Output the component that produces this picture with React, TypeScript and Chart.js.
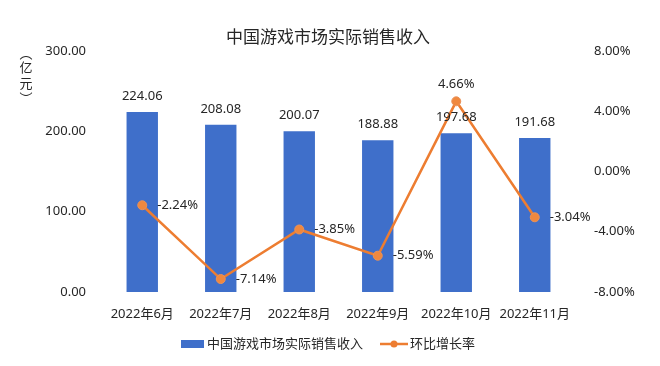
import React, { useEffect, useRef } from "react";
import { Chart, registerables } from "chart.js";

Chart.register(...registerables);

const categories = ["2022年6月", "2022年7月", "2022年8月", "2022年9月", "2022年10月", "2022年11月"];
const revenue = [224.06, 208.08, 200.07, 188.88, 197.68, 191.68];
const growth = [-2.24, -7.14, -3.85, -5.59, 4.66, -3.04];
const revenueAxis = { min: 0, max: 300, step: 100 };
const growthAxis = { min: -8, max: 8, step: 4 };
const titleText = "中国游戏市场实际销售收入";
const unitText = ["︵", "亿", "元", "︶"];
const seriesNames = ["中国游戏市场实际销售收入", "环比增长率"];

const FONT = "'Noto Sans', 'Noto Sans CJK SC', sans-serif";
const TEXT = "#262626";
const BLUE = "#3F6FCA";
const ORANGE = "#ED7D31";

const decorPlugin = {
  id: "decor",
  afterDatasetsDraw(chart: any) {
    const ctx = chart.ctx as CanvasRenderingContext2D;
    ctx.save();
    ctx.fillStyle = TEXT;
    // bar value labels
    ctx.font = `13px ${FONT}`;
    ctx.textAlign = "center";
    ctx.textBaseline = "middle";
    const barMeta = chart.getDatasetMeta(1);
    barMeta.data.forEach((el: any, i: number) => {
      ctx.fillText(revenue[i].toFixed(2), el.x, el.y - 16);
    });
    // line value labels
    const lineMeta = chart.getDatasetMeta(0);
    lineMeta.data.forEach((el: any, i: number) => {
      const txt = growth[i].toFixed(2) + "%";
      if (growth[i] > 0) {
        ctx.textAlign = "center";
        ctx.fillText(txt, el.x, el.y - 17);
      } else {
        ctx.textAlign = "left";
        ctx.fillText(txt, el.x + 15, el.y);
      }
    });
    ctx.restore();
  },
  afterDraw(chart: any) {
    const ctx = chart.ctx as CanvasRenderingContext2D;
    ctx.save();
    ctx.fillStyle = TEXT;
    ctx.textBaseline = "middle";
    // title
    ctx.font = `17px ${FONT}`;
    ctx.textAlign = "center";
    ctx.fillText(titleText, 328, 38);
    // unit (vertical)
    ctx.font = `13px ${FONT}`;
    const ys = [54, 68, 84, 99];
    unitText.forEach((c, i) => ctx.fillText(c, 26, ys[i]));
    // legend
    const ly = 344;
    ctx.fillStyle = BLUE;
    ctx.fillRect(181, ly - 4, 23, 8);
    ctx.fillStyle = TEXT;
    ctx.textAlign = "left";
    ctx.font = `13px ${FONT}`;
    ctx.fillText(seriesNames[0], 207, ly);
    ctx.strokeStyle = ORANGE;
    ctx.lineWidth = 2.5;
    ctx.beginPath();
    ctx.moveTo(380, ly);
    ctx.lineTo(408, ly);
    ctx.stroke();
    ctx.fillStyle = ORANGE;
    ctx.beginPath();
    ctx.arc(394, ly, 3.5, 0, Math.PI * 2);
    ctx.fill();
    ctx.fillStyle = TEXT;
    ctx.fillText(seriesNames[1], 410, ly);
    ctx.restore();
  },
};

export default function App() {
  const ref = useRef<HTMLCanvasElement | null>(null);
  useEffect(() => {
    if (!ref.current) return;
    const chart = new Chart(ref.current, {
      type: "bar",
      data: {
        labels: categories,
        datasets: [
          {
            type: "line",
            label: seriesNames[1],
            data: growth,
            yAxisID: "y1",
            borderColor: ORANGE,
            backgroundColor: ORANGE,
            borderWidth: 2.5,
            pointRadius: 4.5,
            pointBackgroundColor: "#F0883E",
            pointBorderColor: "#E9925A",
            pointBorderWidth: 1,
            tension: 0,
            order: 0,
          } as any,
          {
            type: "bar",
            label: seriesNames[0],
            data: revenue,
            yAxisID: "y",
            backgroundColor: BLUE,
            barPercentage: 0.4,
            categoryPercentage: 1,
            order: 1,
          },
        ],
      },
      options: {
        responsive: false,
        animation: false,
        layout: { padding: { top: 51, bottom: 0, left: 0, right: 0 } },
        plugins: { legend: { display: false }, title: { display: false }, tooltip: { enabled: false } },
        scales: {
          x: {
            grid: { display: false, drawTicks: false },
            border: { display: false },
            ticks: { padding: 14, color: TEXT, font: { family: FONT, size: 13 } },
            afterFit: (s: any) => {
              s.height = 74;
            },
          },
          y: {
            position: "left",
            min: revenueAxis.min,
            max: revenueAxis.max,
            grid: { display: false, drawTicks: false },
            border: { display: false },
            ticks: {
              stepSize: revenueAxis.step,
              padding: 17,
              color: TEXT,
              font: { family: FONT, size: 13 },
              callback: (v: any) => Number(v).toFixed(2),
            },
            afterFit: (s: any) => {
              s.width = 103;
            },
          },
          y1: {
            position: "right",
            min: growthAxis.min,
            max: growthAxis.max,
            grid: { display: false, drawTicks: false },
            border: { display: false },
            ticks: {
              stepSize: growthAxis.step,
              padding: 20,
              color: TEXT,
              font: { family: FONT, size: 13 },
              callback: (v: any) => Number(v).toFixed(2) + "%",
            },
            afterFit: (s: any) => {
              s.width = 86;
            },
          },
        },
      },
      plugins: [decorPlugin],
    });
    return () => chart.destroy();
  }, []);
  return (
    <div style={{ position: "fixed", left: 0, top: 0, width: 660, height: 366, background: "#fff" }}>
      <canvas ref={ref} width={660} height={366} style={{ display: "block" }} />
    </div>
  );
}
